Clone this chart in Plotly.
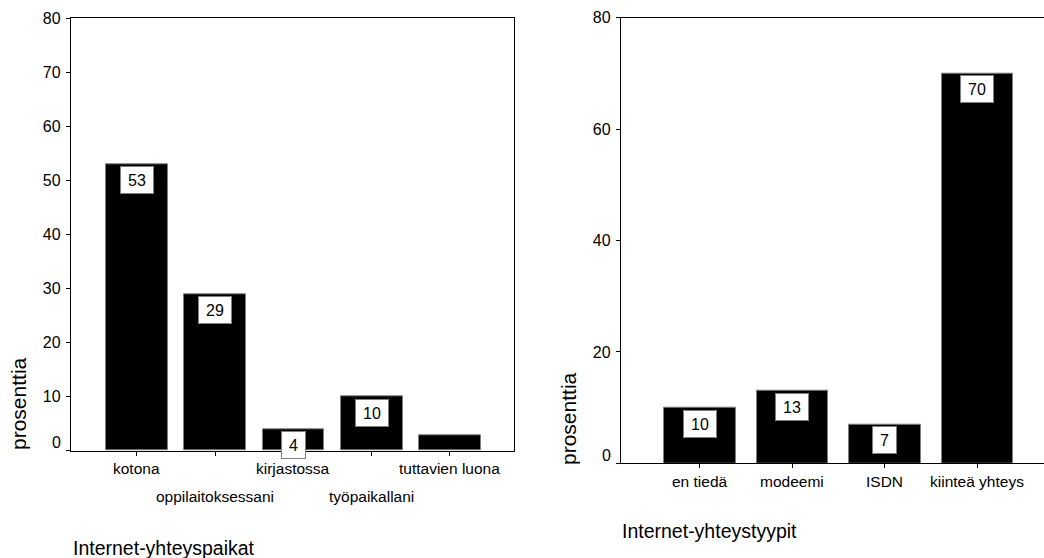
import plotly.graph_objects as go

# Internet connection locations (left panel)
places = ["kotona", "oppilaitoksessani", "kirjastossa", "työpaikallani", "tuttavien luona"]
place_pct = [53, 29, 4, 10, 2.8]
place_labels = ["53", "29", "4", "10", ""]
place_ticks = [0, 10, 20, 30, 40, 50, 60, 70, 80]

# Internet connection types (right panel)
conn_types = ["en tiedä", "modeemi", "ISDN", "kiinteä yhteys"]
type_pct = [10, 13, 7, 70]
type_labels = ["10", "13", "7", "70"]
type_ticks = [0, 20, 40, 60, 80]

W, H = 1044, 558
FONT = "Liberation Sans, Arial, sans-serif"
INK = "#000000"


def px(x):
    return x / W


def py(y):
    return 1 - y / H


fig = go.Figure()

fig.add_trace(go.Bar(
    x=places, y=place_pct, width=0.79,
    marker=dict(color=INK, line=dict(color="#7f7f7f", width=1)),
    xaxis="x", yaxis="y", hoverinfo="skip", showlegend=False,
))
fig.add_trace(go.Bar(
    x=conn_types, y=type_pct, width=0.773,
    marker=dict(color=INK, line=dict(color="#7f7f7f", width=1)),
    xaxis="x2", yaxis="y2", hoverinfo="skip", showlegend=False,
))

axis_common = dict(
    automargin=False,
    showgrid=False, zeroline=False, showline=True, linecolor=INK, linewidth=1.3,
    ticks="outside", ticklen=4, tickcolor=INK, tickwidth=1,
    tickfont=dict(family=FONT, size=16, color=INK),
)

fig.update_layout(
    template="none",
    width=W, height=H, autosize=False,
    margin=dict(l=0, r=0, t=0, b=0, pad=0, autoexpand=False),
    paper_bgcolor="white", plot_bgcolor="white",
    bargap=0,
    xaxis=dict(
        **axis_common, type="category", domain=[px(71), px(514)],
        range=[-0.843, 4.818], mirror=True, showticklabels=False, anchor="y",
    ),
    yaxis=dict(
        **axis_common, domain=[py(450.7), py(18.3)], range=[0, 80],
        tickvals=place_ticks,
        ticktext=["" if v == 0 else str(v) for v in place_ticks],
        mirror=True, ticklabelstandoff=2, anchor="x",
    ),
    xaxis2=dict(
        **axis_common, type="category", domain=[px(621), 1.0],
        range=[-0.854, 3.719], mirror=True, showticklabels=False, anchor="y2",
    ),
    yaxis2=dict(
        **axis_common, domain=[py(463.3), py(17.7)], range=[0, 80],
        tickvals=type_ticks,
        ticktext=["" if v == 0 else str(v) for v in type_ticks],
        mirror=False, ticklabelstandoff=2, anchor="x2",
    ),
)

annotations = []


# Value boxes just inside the top of each bar
def value_boxes(cats, vals, labels, xref, yref):
    for c, v, lab in zip(cats, vals, labels):
        if not lab:
            continue
        annotations.append(dict(
            x=c, y=v, xref=xref, yref=yref, text=lab, showarrow=False,
            xanchor="center", yanchor="top", yshift=-2,
            width=30 if len(lab) > 1 else 21, height=24,
            bgcolor="white", bordercolor="#7f7f7f", borderwidth=1, borderpad=1,
            font=dict(family=FONT, size=16, color=INK),
        ))


value_boxes(places, place_pct, place_labels, "x", "y")
value_boxes(conn_types, type_pct, type_labels, "x2", "y2")

# Category labels (staggered on the left panel)
for i, c in enumerate(places):
    annotations.append(dict(
        x=c, xref="x", y=py(468 if i % 2 == 0 else 496), yref="paper",
        text=c, showarrow=False, xanchor="center", yanchor="middle",
        font=dict(family=FONT, size=15.5, color=INK),
    ))
for c in conn_types:
    annotations.append(dict(
        x=c, xref="x2", y=py(481), yref="paper",
        text=c, showarrow=False, xanchor="center", yanchor="middle",
        font=dict(family=FONT, size=15.5, color=INK),
    ))

# Zero tick labels sit slightly above the baseline
for yr, ax_x in (("y", 71), ("y2", 621)):
    annotations.append(dict(
        x=px(ax_x - 8.5), xref="paper", y=0, yref=yr, text="0", showarrow=False,
        xanchor="right", yanchor="middle", yshift=8,
        font=dict(family=FONT, size=16, color=INK),
    ))

# Axis titles
annotations += [
    dict(x=px(18.5), y=py(403.5), xref="paper", yref="paper", text="prosenttia",
         textangle=-90, showarrow=False, xanchor="center", yanchor="middle",
         font=dict(family=FONT, size=21, color=INK)),
    dict(x=px(568), y=py(419), xref="paper", yref="paper", text="prosenttia",
         textangle=-90, showarrow=False, xanchor="center", yanchor="middle",
         font=dict(family=FONT, size=21, color=INK)),
    dict(x=px(71), y=py(548), xref="paper", yref="paper", text="Internet-yhteyspaikat",
         showarrow=False, xanchor="left", yanchor="middle",
         font=dict(family=FONT, size=19.5, color=INK)),
    dict(x=px(620), y=py(531), xref="paper", yref="paper", text="Internet-yhteystyypit",
         showarrow=False, xanchor="left", yanchor="middle",
         font=dict(family=FONT, size=19.5, color=INK)),
]

fig.update_layout(annotations=annotations)

fig.write_html("out.html")
